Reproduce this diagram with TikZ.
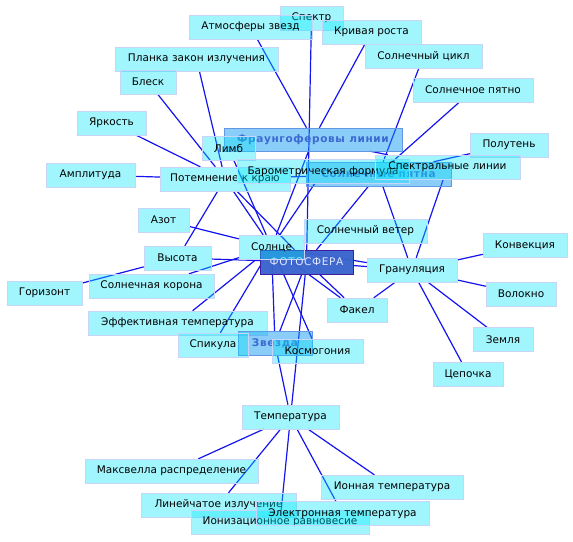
\documentclass[tikz,border=0pt]{standalone}
\usepackage{fontspec}
\setmainfont{DejaVu Sans}
\newfontfamily\keyfont[LetterSpace=6]{DejaVu Sans}
\definecolor{boxfill}{RGB}{0,231,250}
\definecolor{boxborder}{RGB}{200,212,248}
\definecolor{keyfill}{RGB}{10,150,240}
\definecolor{keyborder}{RGB}{100,150,230}
\definecolor{keytext}{RGB}{60,105,210}
\definecolor{mainfill}{RGB}{58,100,205}
\definecolor{mainborder}{RGB}{60,30,160}
\definecolor{maintext}{RGB}{225,232,255}
\definecolor{linkblue}{RGB}{20,20,240}
\tikzset{
  box/.style={draw=boxborder, line width=0.8pt, fill=boxfill, fill opacity=0.37,
    text opacity=1, minimum height=24pt, inner sep=0pt, text=black,
    font=\fontsize{10.5}{12}\selectfont},
  keybox/.style={box, draw=keyborder, fill=keyfill, fill opacity=0.48,
    text=keytext, font=\keyfont\bfseries\fontsize{10.5}{12}\selectfont},
  mainbox/.style={box, draw=mainborder, fill=mainfill, fill opacity=0.97,
    text=maintext, font=\keyfont\fontsize{10.5}{12}\selectfont},
  link/.style={draw=linkblue, line width=1.2pt}
}
\begin{document}
\begin{tikzpicture}[x=1pt,y=-1pt]
\useasboundingbox (0,0) rectangle (573,541);
% coordinates of node centres (for edges drawn first)
\begin{scope}[every node/.style={minimum height=24pt, inner sep=0pt, draw=none}]
\node[minimum width=63pt]  (spektr)   at (311.5,18) {};
\node[minimum width=123pt] (atm)      at (250.5,27) {};
\node[minimum width=99pt]  (kriv)     at (371.5,32) {};
\node[minimum width=163pt] (planck)   at (196.5,59) {};
\node[minimum width=117pt] (cikl)     at (423.5,56) {};
\node[minimum width=56pt]  (blesk)    at (148,82) {};
\node[minimum width=120pt] (pyatno)   at (473,90) {};
\node[minimum width=69pt]  (yark)     at (111.5,123) {};
\node[minimum width=178pt,minimum height=23pt] (fraun) at (313,139.5) {};
\node[minimum width=53pt]  (limb)     at (228.5,148) {};
\node[minimum width=78pt]  (polut)    at (509,145) {};
\node[minimum width=172pt] (barom)    at (323,171.5) {};
\node[minimum width=145pt] (pyatna)   at (378.5,174) {};
\node[minimum width=145pt] (spektlin) at (447.5,167) {};
\node[minimum width=130pt] (potemn)   at (225,179) {};
\node[minimum width=89pt]  (ampl)     at (90.5,175) {};
\node[minimum width=51pt]  (azot)     at (163.5,220) {};
\node[minimum width=123pt] (veter)    at (365.5,231) {};
\node[minimum width=65pt]  (solnce)   at (271.5,247) {};
\node[minimum width=93pt]  (foto)     at (306.5,262) {};
\node[minimum width=84pt]  (konv)     at (525,245) {};
\node[minimum width=67pt]  (vysota)   at (177.5,258) {};
\node[minimum width=90pt]  (granul)   at (412,270) {};
\node[minimum width=125pt] (korona)   at (151.5,286) {};
\node[minimum width=75pt]  (gorizont) at (44.5,293) {};
\node[minimum width=70pt]  (volokno)  at (521,294) {};
\node[minimum width=60pt]  (fakel)    at (357,310) {};
\node[minimum width=179pt] (efftemp)  at (177.5,323) {};
\node[minimum width=60pt]  (zemlya)   at (503,339.5) {};
\node[minimum width=70pt]  (spikula)  at (213,345) {};
\node[minimum width=74pt]  (zvezda)   at (275,343.5) {};
\node[minimum width=91pt]  (kosmog)   at (317.5,351) {};
\node[minimum width=70pt]  (cepochka) at (468,374) {};
\node[minimum width=97pt]  (temp)     at (290.5,417) {};
\node[minimum width=173pt] (maxwell)  at (171.5,471) {};
\node[minimum width=142pt] (ion)      at (392,487) {};
\node[minimum width=155pt] (linei)    at (218.5,505) {};
\node[minimum width=173pt] (elektr)   at (342.5,513.5) {};
\node[minimum width=178pt] (ioniz)    at (280,522) {};
\end{scope}
% connectors
\foreach \a/\b in {atm/fraun, kriv/fraun, spektr/foto, fraun/spektlin, fraun/solnce,
  planck/potemn, blesk/potemn, yark/potemn, ampl/potemn, vysota/potemn,
  potemn/solnce, potemn/foto, potemn/pyatna,
  limb/solnce, barom/solnce, azot/solnce, korona/solnce, efftemp/solnce,
  spikula/solnce, solnce/zvezda, solnce/kosmog, solnce/fakel, solnce/granul, solnce/veter,
  gorizont/vysota, vysota/foto,
  cikl/pyatna, pyatno/pyatna, polut/pyatna, pyatna/foto, pyatna/granul,
  spektlin/granul, foto/granul, foto/fakel, foto/zvezda, foto/temp,
  granul/fakel, granul/konv, granul/volokno, granul/zemlya, granul/cepochka,
  zvezda/temp, temp/maxwell, temp/linei, temp/ioniz, temp/elektr, temp/ion}
  \draw[link] (\a) -- (\b);
% visible boxes
\node[keybox, minimum width=178pt, minimum height=23pt] at (fraun) {Фраунгоферовы линии};
\node[keybox, minimum width=145pt] at (pyatna) {Солнечные пятна};
\node[box, minimum width=63pt]  at (spektr) {Спектр};
\node[box, minimum width=123pt] at (atm) {Атмосферы звезд};
\node[box, minimum width=99pt]  at (kriv) {Кривая роста};
\node[box, minimum width=163pt] at (planck) {Планка закон излучения};
\node[box, minimum width=117pt] at (cikl) {Солнечный цикл};
\node[box, minimum width=56pt]  at (blesk) {Блеск};
\node[box, minimum width=120pt] at (pyatno) {Солнечное пятно};
\node[box, minimum width=69pt]  at (yark) {Яркость};
\node[box, minimum width=53pt]  at (limb) {Лимб};
\node[box, minimum width=78pt]  at (polut) {Полутень};
\node[box, minimum width=130pt] at (potemn) {Потемнение к краю};
\node[box, minimum width=172pt] at (barom) {Барометрическая формула};
\node[box, minimum width=145pt] at (spektlin) {Спектральные линии};
\node[box, minimum width=89pt]  at (ampl) {Амплитуда};
\node[box, minimum width=51pt]  at (azot) {Азот};
\node[box, minimum width=123pt] at (veter) {Солнечный ветер};
\node[mainbox, minimum width=93pt] at (foto) {ФОТОСФЕРА};
\node[box, minimum width=65pt]  at (solnce) {Солнце};
\node[box, minimum width=84pt]  at (konv) {Конвекция};
\node[box, minimum width=67pt]  at (vysota) {Высота};
\node[box, minimum width=90pt]  at (granul) {Грануляция};
\node[box, minimum width=125pt] at (korona) {Солнечная корона};
\node[box, minimum width=75pt]  at (gorizont) {Горизонт};
\node[box, minimum width=70pt]  at (volokno) {Волокно};
\node[box, minimum width=60pt]  at (fakel) {Факел};
\node[box, minimum width=179pt] at (efftemp) {Эффективная температура};
\node[box, minimum width=60pt]  at (zemlya) {Земля};
\node[keybox, minimum width=74pt] at (zvezda) {Звезда};
\node[box, minimum width=70pt]  at (spikula) {Спикула};
\node[box, minimum width=91pt]  at (kosmog) {Космогония};
\node[box, minimum width=70pt]  at (cepochka) {Цепочка};
\node[box, minimum width=97pt]  at (temp) {Температура};
\node[box, minimum width=173pt] at (maxwell) {Максвелла распределение};
\node[box, minimum width=142pt] at (ion) {Ионная температура};
\node[box, minimum width=155pt] at (linei) {Линейчатое излучение};
\node[box, minimum width=178pt] at (ioniz) {Ионизационное равновесие};
\node[box, minimum width=173pt] at (elektr) {Электронная температура};
\end{tikzpicture}
\end{document}
